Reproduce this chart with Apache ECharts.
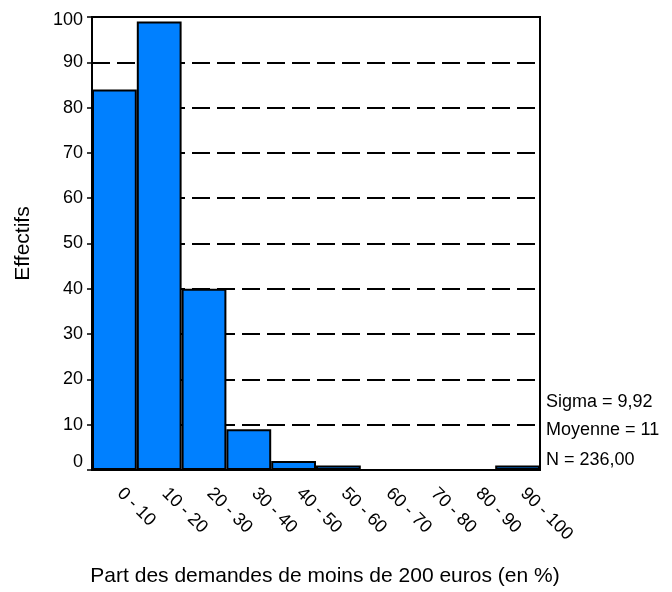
<!DOCTYPE html>
<html>
<head>
<meta charset="utf-8">
<script src="https://cdn.jsdelivr.net/npm/echarts@6/dist/echarts.min.js"></script>
<style>
html,body{margin:0;padding:0;background:#fff;}
#c{width:672px;height:592px;}
</style>
</head>
<body>
<div id="c"></div>
<script>
const categories = ['0 - 10','10 - 20','20 - 30','30 - 40','40 - 50','50 - 60','60 - 70','70 - 80','80 - 90','90 - 100'];
const counts = [84, 99, 40, 9, 2, 1, 0, 0, 0, 1];
const yTicks = { min: 0, max: 100, interval: 10 };
const statsLines = ['Sigma = 9,92', 'Moyenne = 11', 'N = 236,00'];
const xAxisTitle = 'Part des demandes de moins de 200 euros (en %)';
const yAxisTitle = 'Effectifs';

const FONT = '"Liberation Sans", Arial, sans-serif';
const chart = echarts.init(document.getElementById('c'), null, {renderer: 'canvas'});

const statsY = [403, 431, 461];
chart.setOption({
  animation: false,
  backgroundColor: '#fff',
  textStyle: { fontFamily: FONT },
  grid: { left: 92, right: 132, top: 17, bottom: 119, show: true, borderColor: '#000', borderWidth: 2, backgroundColor: 'transparent' },
  xAxis: {
    type: 'category',
    data: categories,
    boundaryGap: true,
    name: xAxisTitle,
    nameLocation: 'middle',
    nameGap: 96,
    nameTextStyle: { fontSize: 21, color: '#000', fontFamily: FONT, padding: [0, 0, 0, 18] },
    axisLine: { lineStyle: { color: '#000', width: 2 } },
    axisTick: { alignWithLabel: true, length: 5, lineStyle: { color: '#000', width: 1.5 } },
    axisLabel: { rotate: -45, margin: 15, padding: [0, 0, 0, 8], fontSize: 18, color: '#000', fontFamily: FONT, interval: 0 },
    splitLine: { show: false }
  },
  yAxis: {
    type: 'value',
    min: yTicks.min, max: yTicks.max, interval: yTicks.interval,
    name: yAxisTitle,
    nameLocation: 'middle',
    nameGap: 58,
    nameRotate: 90,
    nameTextStyle: { fontSize: 21, color: '#000', fontFamily: FONT },
    axisLine: { show: true, lineStyle: { color: '#000', width: 2 } },
    axisTick: { show: true, length: 5, lineStyle: { color: '#000', width: 1.5 } },
    axisLabel: {
      margin: 9, fontSize: 18, color: '#000', fontFamily: FONT,
      formatter: function (v) {
        if (v === yTicks.min) return '{lo|' + v + '}';
        if (v === yTicks.max) return '{hi|' + v + '}';
        return String(v);
      },
      rich: {
        lo: { fontSize: 18, fontFamily: FONT, color: '#000', padding: [0, 0, 16, 0] },
        hi: { fontSize: 18, fontFamily: FONT, color: '#000', padding: [7, 0, 0, 0] }
      }
    },
    splitLine: { show: true, lineStyle: { color: '#000', width: 2, type: [18, 7] } }
  },
  series: [{
    type: 'bar',
    data: counts,
    barWidth: '100%',
    barCategoryGap: '0%',
    itemStyle: { color: '#0080ff', borderColor: '#000', borderWidth: 2 }
  }],
  graphic: statsLines.map(function (t, i) {
    return {
      type: 'text',
      left: 546,
      top: statsY[i] - 10,
      style: { text: t, fontSize: 18, fontFamily: FONT, fill: '#000' }
    };
  })
});
</script>
</body>
</html>
